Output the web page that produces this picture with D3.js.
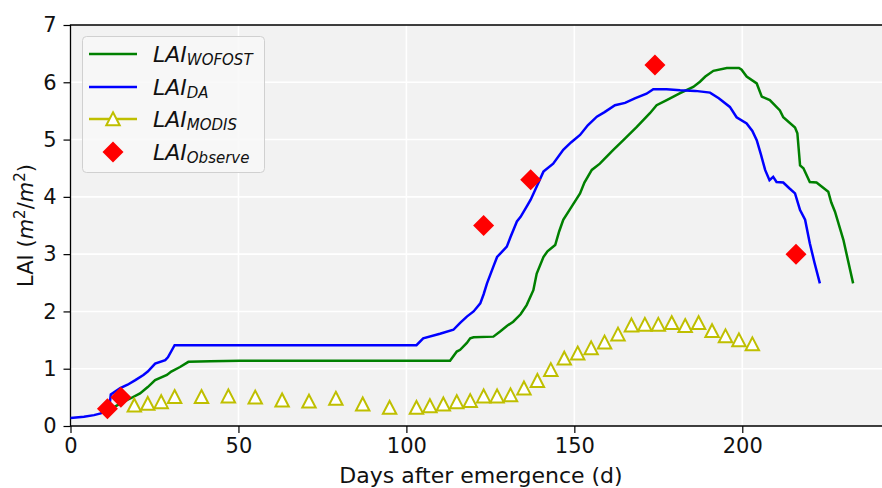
<!DOCTYPE html>
<html>
<head>
    <meta charset="utf-8">
    <title>LAI simulation vs observation</title>
    <script src="https://cdn.jsdelivr.net/npm/d3@7"></script>
    <style>
        body { margin: 0; background: #fff; }
        text { font-family: "DejaVu Sans", sans-serif; fill: #111; }
        .axis text { font-size: 21px; }
        .axis path { display: none; }
        .axis line { stroke: #000; stroke-width: 1.2; }
    </style>
</head>
<body>

<script>
    // ---- data ----
    var daDays = [0, 4, 7, 9, 10.5, 11.5, 12, 14.8, 17, 19.3, 21.7, 23, 25.2, 28.2, 29, 31, 103, 105, 110, 114, 116, 118, 120, 122, 123, 124, 126, 127, 129.9, 131, 132.9, 134, 135.8, 137, 138.8, 140.8, 143.7, 146.7, 149, 151.7, 154, 156.7, 159, 162.1, 165.1, 168, 171.5, 173.5, 177.5, 181.5, 186, 190.4, 193, 196.3, 198.3, 201.3, 203, 204.3, 205.5, 206.8, 208.1, 209.2, 210.2, 212.2, 214, 215.7, 217.2, 218.7, 220.1, 221.5, 223.1];
    var daLai  = [0.14, 0.16, 0.19, 0.22, 0.26, 0.3, 0.55, 0.66, 0.72, 0.8, 0.89, 0.95, 1.09, 1.15, 1.2, 1.41, 1.41, 1.53, 1.61, 1.68, 1.8, 1.91, 2.0, 2.14, 2.3, 2.49, 2.8, 2.95, 3.13, 3.3, 3.57, 3.65, 3.83, 3.95, 4.18, 4.44, 4.58, 4.82, 4.95, 5.08, 5.25, 5.4, 5.48, 5.6, 5.64, 5.72, 5.8, 5.88, 5.88, 5.86, 5.85, 5.82, 5.72, 5.57, 5.39, 5.28, 5.15, 4.99, 4.75, 4.47, 4.29, 4.35, 4.26, 4.25, 4.15, 4.06, 3.77, 3.6, 3.19, 2.85, 2.49];

    var wofostDays = [13, 15, 17.8, 20.7, 23, 25.2, 28.7, 30, 32.6, 35.1, 41.6, 50.5, 113, 115, 116, 118, 119, 120, 125.9, 127.9, 130, 131.8, 134, 135.8, 137.8, 138.8, 140.8, 142, 144.3, 145.5, 146.7, 149.2, 151.7, 153, 155.2, 157.6, 158.6, 161.6, 164.6, 168.6, 172.5, 174.5, 177.5, 181.5, 185.4, 187.4, 189, 191.4, 195.4, 199, 199.8, 201.3, 204.3, 205.8, 208.2, 211.2, 212.2, 215.7, 216.4, 217.2, 218.2, 220.1, 222.1, 225.6, 226.5, 227.6, 230.1, 233];
    var wofostLai  = [0.33, 0.4, 0.48, 0.57, 0.68, 0.8, 0.89, 0.95, 1.03, 1.12, 1.13, 1.14, 1.14, 1.3, 1.33, 1.45, 1.53, 1.55, 1.56, 1.65, 1.75, 1.82, 1.95, 2.11, 2.37, 2.66, 2.95, 3.05, 3.16, 3.4, 3.6, 3.83, 4.06, 4.25, 4.47, 4.58, 4.64, 4.82, 4.99, 5.22, 5.46, 5.6, 5.69, 5.81, 5.92, 6.01, 6.1, 6.2, 6.25, 6.25, 6.22, 6.1, 5.98, 5.75, 5.69, 5.51, 5.39, 5.21, 5.11, 4.55, 4.5, 4.26, 4.25, 4.09, 3.9, 3.74, 3.25, 2.49];

    var modisDays = [19, 23, 27, 31, 39, 47, 55, 63, 71, 79, 87, 95, 103, 107, 111, 115, 119, 123, 127, 131, 135, 139, 143, 147, 151, 155, 159, 163, 167, 171, 175, 179, 183, 187, 191, 195, 199, 203];
    var modisLai  = [0.36, 0.39, 0.42, 0.51, 0.51, 0.52, 0.5, 0.45, 0.43, 0.48, 0.38, 0.32, 0.32, 0.35, 0.38, 0.42, 0.44, 0.52, 0.52, 0.54, 0.66, 0.79, 0.98, 1.18, 1.27, 1.36, 1.46, 1.6, 1.76, 1.77, 1.77, 1.8, 1.75, 1.8, 1.66, 1.57, 1.5, 1.43];

    var obsDays = [11, 15, 123, 137, 174, 216];
    var obsLai  = [0.3, 0.5, 3.5, 4.3, 6.3, 3.0];

    var xTicks = [0, 50, 100, 150, 200];
    var yTicks = [0, 1, 2, 3, 4, 5, 6, 7];

    // ---- layout ----
    var W = 882, H = 488;
    var x0 = 70.5, x1 = 880, y0 = 25, y1 = 426;

    var svg = d3.select('body').append('svg')
        .attr('width', W)
        .attr('height', H);

    var x = d3.scaleLinear().domain([0, 241]).range([x0, x1]);
    var y = d3.scaleLinear().domain([0, 7]).range([y1, y0]);

    svg.append('rect')
        .attr('x', x0).attr('y', y0)
        .attr('width', W - x0).attr('height', y1 - y0)
        .style('fill', '#f2f2f2');

    // white grid
    svg.append('g').selectAll('line')
        .data(xTicks.slice(1)).enter()
        .append('line')
        .attr('x1', x).attr('x2', x)
        .attr('y1', y0).attr('y2', y1)
        .style('stroke', '#fff').style('stroke-width', 1.6);
    svg.append('g').selectAll('line')
        .data(yTicks.slice(1, -1)).enter()
        .append('line')
        .attr('x1', x0).attr('x2', W)
        .attr('y1', y).attr('y2', y)
        .style('stroke', '#fff').style('stroke-width', 1.6);

    // axes
    svg.append('g')
        .classed('axis', true)
        .attr('transform', 'translate(0,' + y1 + ')')
        .call(d3.axisBottom(x).tickValues(xTicks).tickFormat(d3.format('d')).tickSize(7).tickPadding(5));
    svg.append('g')
        .classed('axis', true)
        .attr('transform', 'translate(' + x0 + ',0)')
        .call(d3.axisLeft(y).tickValues(yTicks).tickFormat(d3.format('d')).tickSize(7).tickPadding(7));

    // spines
    svg.append('path')
        .attr('d', 'M' + W + ',' + y0 + 'H' + x0 + 'V' + y1 + 'H' + W)
        .style('fill', 'none').style('stroke', '#000').style('stroke-width', 1.3);

    // axis labels
    svg.append('text')
        .attr('x', 481)
        .attr('y', 483)
        .style('text-anchor', 'middle')
        .style('font-size', '22px')
        .text('Days after emergence (d)');

    var ylab = svg.append('text')
        .attr('transform', 'translate(33,' + ((y0 + y1) / 2) + ') rotate(-90)')
        .style('text-anchor', 'middle')
        .style('font-size', '21px');
    ylab.append('tspan').text('LAI (');
    ylab.append('tspan').style('font-style', 'italic').text('m');
    ylab.append('tspan').attr('dy', -8).style('font-size', '15px').text('2');
    ylab.append('tspan').attr('dy', 8).text('/');
    ylab.append('tspan').style('font-style', 'italic').text('m');
    ylab.append('tspan').attr('dy', -8).style('font-size', '15px').text('2');
    ylab.append('tspan').attr('dy', 8).text(')');

    // lines
    var line = d3.line()
        .x(function(d) { return x(d[0]); })
        .y(function(d) { return y(d[1]); });

    svg.append('path')
        .datum(d3.zip(wofostDays, wofostLai))
        .attr('d', line)
        .style('fill', 'none').style('stroke', '#008000').style('stroke-width', 2.5);

    svg.append('path')
        .datum(d3.zip(daDays, daLai))
        .attr('d', line)
        .style('fill', 'none').style('stroke', '#0000ff').style('stroke-width', 2.5);

    var tri = 'M0,-6.7L6.7,6.2L-6.7,6.2Z';
    var diamond = 'M0,-10.5L10.5,0L0,10.5L-10.5,0Z';

    svg.append('g').selectAll('path')
        .data(d3.zip(modisDays, modisLai)).enter()
        .append('path')
        .attr('d', tri)
        .attr('transform', function(d) { return 'translate(' + x(d[0]) + ',' + y(d[1]) + ')'; })
        .style('fill', '#fff').style('stroke', '#bfbf00').style('stroke-width', 2);

    svg.append('g').selectAll('path')
        .data(d3.zip(obsDays, obsLai)).enter()
        .append('path')
        .attr('d', diamond)
        .attr('transform', function(d) { return 'translate(' + x(d[0]) + ',' + y(d[1]) + ')'; })
        .style('fill', '#ff0000');

    // legend
    var lg = svg.append('g');
    lg.append('rect')
        .attr('x', 82.5).attr('y', 36.5)
        .attr('width', 182).attr('height', 136)
        .attr('rx', 4)
        .style('fill', 'rgba(248,248,248,0.85)')
        .style('stroke', '#d0d0d0').style('stroke-width', 1);

    var entries = [
        {sub: 'WOFOST', kind: 'line', color: '#008000'},
        {sub: 'DA', kind: 'line', color: '#0000ff'},
        {sub: 'MODIS', kind: 'tri', color: '#bfbf00'},
        {sub: 'Observe', kind: 'dia', color: '#ff0000'}
    ];
    var rowY = [54, 87, 119, 152];

    var row = lg.selectAll('g.row')
        .data(entries).enter()
        .append('g')
        .attr('transform', function(d, i) { return 'translate(0,' + rowY[i] + ')'; });

    row.filter(function(d) { return d.kind !== 'dia'; })
        .append('line')
        .attr('x1', 89).attr('x2', 137)
        .style('stroke', function(d) { return d.color; })
        .style('stroke-width', 2.5);
    row.filter(function(d) { return d.kind === 'tri'; })
        .append('path')
        .attr('d', tri)
        .attr('transform', 'translate(113,0)')
        .style('fill', '#fff').style('stroke', '#bfbf00').style('stroke-width', 2);
    row.filter(function(d) { return d.kind === 'dia'; })
        .append('path')
        .attr('d', diamond)
        .attr('transform', 'translate(113,0)')
        .style('fill', '#ff0000');

    var lt = row.append('text')
        .attr('x', 153).attr('y', 8)
        .style('font-size', '22px')
        .style('font-style', 'italic');
    lt.append('tspan').text('LAI');
    lt.append('tspan')
        .attr('dy', 3)
        .style('font-size', '15px')
        .text(function(d) { return d.sub; });
</script>
</body>
</html>
